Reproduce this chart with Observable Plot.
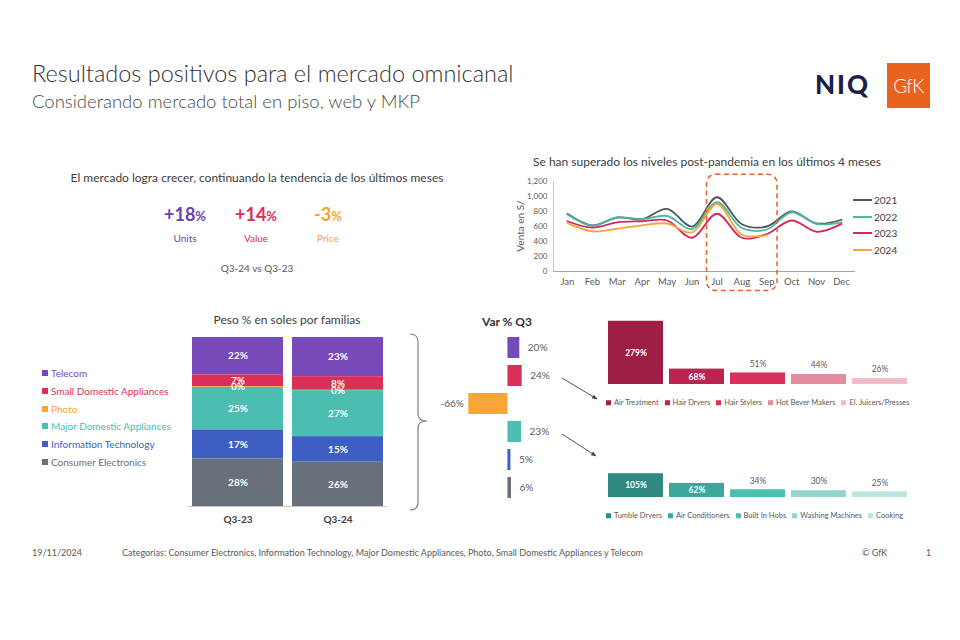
<!DOCTYPE html>
<html><head><meta charset="utf-8">
<script src="https://cdn.jsdelivr.net/npm/d3@7"></script>
<script src="https://cdn.jsdelivr.net/npm/@observablehq/plot@0.6"></script>
<style>
body{margin:0;background:#fff;font-family:Lato,"Open Sans",sans-serif;}
#slide{position:relative;width:960px;height:640px;overflow:hidden;background:#fff;}
#slide svg{overflow:visible;}
.chart{position:absolute;}
.leg{position:absolute;display:flex;align-items:center;white-space:nowrap;line-height:1;transform:translateY(-50%);}
.sq{display:inline-block;width:5px;height:5px;margin-right:3px;}
</style></head>
<body><div id="slide"></div>
<script>
// ---------- DATA ----------
const months = ["Jan","Feb","Mar","Apr","May","Jun","Jul","Aug","Sep","Oct","Nov","Dec"];
const years = ["2021","2022","2023","2024"];
const sales2021 = [770, 615, 720, 700, 835, 600, 990, 630, 600, 800, 640, 690];
const sales2022 = [760, 610, 720, 700, 740, 565, 925, 580, 560, 790, 635, 655];
const sales2023 = [670, 585, 655, 670, 680, 450, 770, 450, 500, 680, 530, 635];
const sales2024 = [645, 535, 570, 615, 640, 520, 900, 490, 485];
const yTicks = [0, 200, 400, 600, 800, 1000, 1200];
const highlightMonths = ["Jul", "Sep"];

const families = ["Telecom","Small Domestic Appliances","Photo","Major Domestic Appliances","Information Technology","Consumer Electronics"];
const periods = ["Q3-23","Q3-24"];
const shareQ323 = [22, 7, 0.4, 25, 17, 28];
const shareQ324 = [23, 8, 0.2, 27, 15, 26];
const varQ3 = [20, 24, -66, 23, 5, 6];

const sdaCats = ["Air Treatment","Hair Dryers","Hair Stylers","Hot Bever Makers","El. Juicers/Presses"];
const sdaVar = [279, 68, 51, 44, 26];
const mdaCats = ["Tumble Dryers","Air Conditioners","Built In Hobs","Washing Machines","Cooking"];
const mdaVar = [105, 62, 34, 30, 25];

const kpiValues = [18, 14, -3];
const kpiLabels = ["Units","Value","Price"];

// ---------- STYLE ----------
const yearColors = ["#4f575c","#4db6a6","#d6285a","#f5a53a"];
const familyColors = ["#7849b8","#d92f58","#f7a537","#4bbdb1","#3e5ec4","#68707a"];
const sdaColors = ["#9e1f45","#bc2450","#d92f5b","#e38ca0","#efbcc7"];
const mdaColors = ["#2e8a80","#3aa89b","#4bbdb1","#93d4cc","#bde5e0"];
const kpiColors = ["#6d3fb0","#d62f56","#f5a42f"];
const FONT = "Lato, 'Open Sans', sans-serif";

const slide = document.getElementById("slide");
function text(txt, x, y, o = {}) {
  const d = document.createElement("div");
  d.textContent = txt;
  const tx = o.anchor === "middle" ? "-50%" : o.anchor === "end" ? "-100%" : "0";
  d.style.cssText = `position:absolute;left:${x}px;top:${y}px;white-space:nowrap;line-height:1;font-size:${o.size||10}px;color:${o.color||"#404040"};font-weight:${o.weight||400};transform:translate(${tx},-50%)${o.rotate?` rotate(${o.rotate}deg)`:""};`;
  slide.appendChild(d);
  return d;
}
function place(node, x, y) {
  node.classList.add("chart");
  node.style.left = x + "px";
  node.style.top = y + "px";
  slide.appendChild(node);
}

// ---------- HEADER ----------
text("Resultados positivos para el mercado omnicanal", 32, 74, {size: 23.5, color: "#333", weight: 300});
text("Considerando mercado total en piso, web y MKP", 32, 101, {size: 18.5, color: "#4a4a4a", weight: 300});
const niq = text("NIQ", 815, 84, {size: 26, color: "#1b1f4a", weight: 900});
niq.style.letterSpacing = "2px";
const gfk = document.createElement("div");
gfk.style.cssText = "position:absolute;left:887px;top:63px;width:43px;height:45px;background:#e8631d;color:#fff;font-size:19px;font-weight:300;display:flex;align-items:center;justify-content:center;letter-spacing:-0.5px;";
gfk.textContent = "GfK";
slide.appendChild(gfk);

// ---------- KPI ----------
text("El mercado logra crecer, continuando la tendencia de los últimos meses", 257, 178, {size: 12, anchor: "middle", color: "#404040"});
const kpiX = [185, 256, 328];
kpiValues.forEach((v, i) => {
  const d = text("", kpiX[i], 214, {size: 18, anchor: "middle", color: kpiColors[i], weight: 700});
  d.innerHTML = `${v > 0 ? "+" : ""}${v}<span style="font-size:13px">%</span>`;
  text(kpiLabels[i], kpiX[i], 238, {size: 10, anchor: "middle", color: kpiColors[i]});
});
text("Q3-24 vs Q3-23", 257, 268, {size: 10, anchor: "middle", color: "#595959"});

// ---------- LINE CHART ----------
text("Se han superado los niveles post-pandemia en los últimos 4 meses", 707, 162, {size: 12, anchor: "middle", color: "#404040"});
const lineRows = [];
[sales2021, sales2022, sales2023, sales2024].forEach((arr, k) =>
  arr.forEach((v, i) => lineRows.push({year: years[k], m: i + 1, value: v})));
const hl = [{from: months.indexOf(highlightMonths[0]) + 1, to: months.indexOf(highlightMonths[1]) + 1}];
const lineChart = Plot.plot({
  width: 360, height: 126, marginLeft: 53, marginRight: 5, marginTop: 11, marginBottom: 25,
  style: {fontFamily: FONT, background: "transparent", color: "#595959", overflow: "visible"},
  x: {domain: [0.44, 12.56]},
  y: {domain: [0, 1200]},
  color: {domain: years, range: yearColors},
  marks: [
    Plot.ruleX([0.44], {y1: 0, y2: 1200, stroke: "#c8c8c8"}),
    Plot.ruleY([0], {stroke: "#a6a6a6"}),
    Plot.axisY({ticks: yTicks, tickSize: 0, tickPadding: 6, tickFormat: d3.format(","), label: null, fontSize: 8}),
    Plot.axisX({ticks: months.map((m, i) => i + 1), tickSize: 0, tickPadding: 7, tickFormat: i => months[i - 1], label: null, fontSize: 9.5}),
    Plot.line(lineRows, {x: "m", y: "value", stroke: "year", curve: "catmull-rom", strokeWidth: 1.8}),
    Plot.rect(hl, {x1: d => d.from - 0.4, x2: d => d.to + 0.43, y1: -260, y2: 1290, rx: 9, fill: "none", stroke: "#e8602c", strokeDasharray: "5,3.5", strokeWidth: 1.5})
  ]
});
place(lineChart, 500, 170);
text("Venta en S/", 520, 226, {size: 10, anchor: "middle", color: "#595959", rotate: -90});
years.forEach((y, i) => {
  const d = document.createElement("div");
  d.className = "leg";
  d.style.left = "853px"; d.style.top = (200 + i * 16.6) + "px";
  d.style.fontSize = "10px"; d.style.color = "#404040";
  d.innerHTML = `<span style="display:inline-block;width:19px;height:2px;background:${yearColors[i]};margin-right:2px"></span>${y}`;
  slide.appendChild(d);
});

// ---------- STACKED SHARE ----------
text("Peso % en soles por familias", 287, 320, {size: 12, anchor: "middle", color: "#404040"});
const shareRows = [];
families.forEach((f, i) => {
  shareRows.push({period: periods[0], family: f, share: shareQ323[i]});
  shareRows.push({period: periods[1], family: f, share: shareQ324[i]});
});
const stackOrder = families.slice().reverse();
const stackOpts = {offset: "normalize", order: stackOrder, x: "period", y: "share", z: "family"};
const stackChart = Plot.plot({
  width: 215, height: 198, marginLeft: 8, marginRight: 8, marginTop: 7, marginBottom: 22,
  style: {fontFamily: FONT, background: "transparent", color: "#404040", overflow: "visible"},
  x: {domain: periods, paddingInner: 0.09, paddingOuter: 0.04},
  y: {axis: null},
  color: {domain: families, range: familyColors},
  marks: [
    Plot.barY(shareRows, Plot.stackY({...stackOpts, fill: "family"})),
    Plot.text(shareRows, Plot.stackY({...stackOpts, text: d => Math.round(d.share) + "%", fill: "white", fontWeight: "bold", fontSize: 10})),
    Plot.ruleY([0], {stroke: "#c8c8c8"}),
    Plot.axisX({tickSize: 0, tickPadding: 9, fontWeight: "bold", fontSize: 10, label: null})
  ]
});
place(stackChart, 180, 330);
families.forEach((f, i) => {
  const d = document.createElement("div");
  d.className = "leg";
  d.style.left = "42px"; d.style.top = (373 + i * 17.8) + "px";
  d.style.fontSize = "10px"; d.style.color = familyColors[i];
  d.innerHTML = `<span class="sq" style="background:${familyColors[i]};width:6px;height:6px"></span>${f}`;
  slide.appendChild(d);
});

// ---------- VAR % Q3 ----------
text("Var % Q3", 507, 322, {size: 12, anchor: "middle", color: "#333", weight: 700});
const varRows = families.map((f, i) => ({family: f, v: varQ3[i]}));
const varChart = Plot.plot({
  width: 123, height: 175, marginLeft: 30, marginRight: 10, marginTop: 2, marginBottom: 3,
  style: {fontFamily: FONT, background: "transparent", overflow: "visible"},
  x: {domain: [-80, 60], axis: null},
  y: {domain: families, paddingInner: 0.25, paddingOuter: 0.125, axis: null},
  color: {domain: families, range: familyColors},
  marks: [
    Plot.barX(varRows, {y: "family", x: "v", fill: "family"}),
    Plot.text(varRows.filter(d => d.v >= 0), {y: "family", x: "v", text: d => d.v + "%", textAnchor: "start", dx: 8, fill: "#595959", fontSize: 10}),
    Plot.text(varRows.filter(d => d.v < 0), {y: "family", x: "v", text: d => d.v + "%", textAnchor: "end", dx: -5, fill: "#595959", fontSize: 10})
  ]
});
place(varChart, 430, 330);

// ---------- SUB-FAMILY COLUMNS ----------
function columns(cats, vals, colors) {
  const rows = cats.map((c, i) => ({cat: c, v: vals[i]}));
  return Plot.plot({
    width: 310, height: 78, marginLeft: 0, marginRight: 5, marginTop: 6, marginBottom: 4,
    style: {fontFamily: FONT, background: "transparent", overflow: "visible"},
    x: {domain: cats, paddingInner: 0.1, paddingOuter: 0.05, axis: null},
    y: {domain: [0, 300], axis: null},
    color: {domain: cats, range: colors},
    marks: [
      Plot.barY(rows, {x: "cat", y: "v", fill: "cat"}),
      Plot.text(rows.filter(d => d.v >= 60), {x: "cat", y: d => d.v / 2, text: d => d.v + "%", fill: "white", fontWeight: "bold", fontSize: 8.5}),
      Plot.text(rows.filter(d => d.v < 60), {x: "cat", y: "v", dy: -9, text: d => d.v + "%", fill: "#595959", fontSize: 8.5})
    ]
  });
}
place(columns(sdaCats, sdaVar, sdaColors), 605, 310);
place(columns(mdaCats, mdaVar, mdaColors), 605, 423);
function colLegend(cats, colors, y) {
  const d = document.createElement("div");
  d.className = "leg";
  d.style.left = "606px"; d.style.top = y + "px";
  d.style.fontSize = "7.5px"; d.style.color = "#595959"; d.style.gap = "6px";
  d.innerHTML = cats.map((c, i) => `<span style="display:flex;align-items:center"><span class="sq" style="background:${colors[i]}"></span>${c}</span>`).join("");
  slide.appendChild(d);
}
colLegend(sdaCats, sdaColors, 403);
colLegend(mdaCats, mdaColors, 516);

// ---------- CONNECTORS ----------
const ns = "http://www.w3.org/2000/svg";
const ov = document.createElementNS(ns, "svg");
ov.setAttribute("width", 960); ov.setAttribute("height", 640);
ov.style.cssText = "position:absolute;left:0;top:0;pointer-events:none;";
ov.innerHTML = `<defs><marker id="ah" viewBox="0 0 10 10" refX="9" refY="5" markerWidth="6" markerHeight="6" orient="auto"><path d="M0,1 L10,5 L0,9 z" fill="#404040"/></marker></defs>
<path d="M410,334 Q418,334 418,342 L418,414 Q418,421 427,421 Q418,421 418,428 L418,502 Q418,510 410,510" fill="none" stroke="#808080" stroke-width="1.2"/>
<line x1="562" y1="378" x2="597" y2="399" stroke="#404040" stroke-width="0.9" marker-end="url(#ah)"/>
<line x1="562" y1="434" x2="596" y2="456" stroke="#404040" stroke-width="0.9" marker-end="url(#ah)"/>`;
slide.appendChild(ov);

// ---------- FOOTER ----------
text("19/11/2024", 32, 552, {size: 9, color: "#595959"});
text("Categorías: Consumer Electronics, Information Technology, Major Domestic Appliances, Photo, Small Domestic Appliances y Telecom", 122, 552, {size: 9, color: "#595959"});
text("© GfK", 862, 552, {size: 9, color: "#595959"});
text("1", 926, 552, {size: 9, color: "#595959"});
</script></body></html>
